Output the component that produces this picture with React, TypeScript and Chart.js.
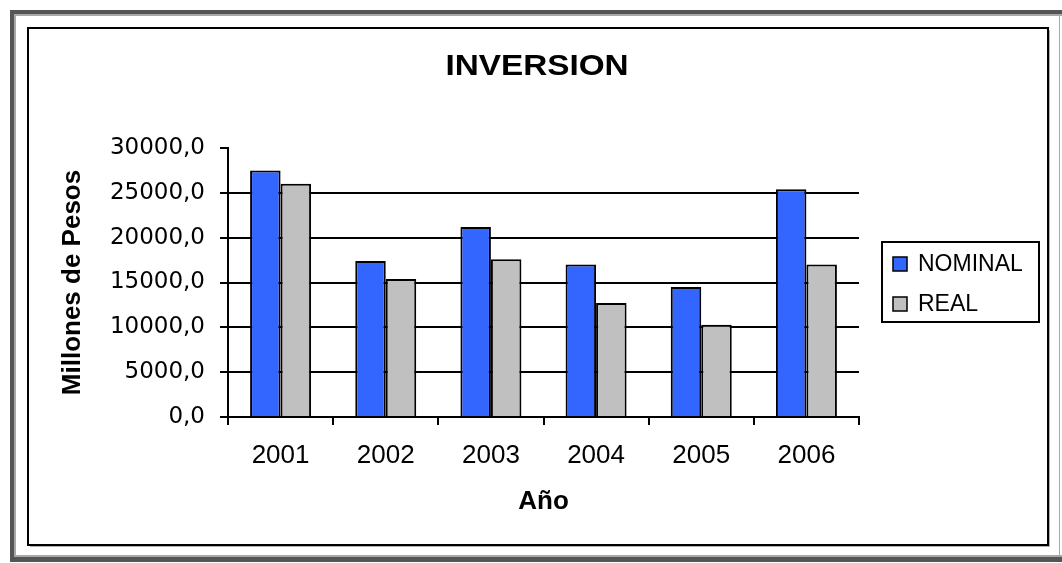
import { useEffect, useRef } from 'react';
import { Chart, registerables } from 'chart.js';

Chart.register(...registerables);

// Investment per year, in millions of pesos
const years = ['2001', '2002', '2003', '2004', '2005', '2006'];
const nominal = [27500, 17400, 21200, 17000, 14500, 25400];
const real = [26000, 15400, 17600, 12700, 10300, 17000];
const seriesNames = ['NOMINAL', 'REAL'];
const seriesColors = ['#3366FF', '#C0C0C0'];

const chartTitle = 'INVERSION';
const yAxisTitle = 'Millones de Pesos';
const xAxisTitle = 'Año';

const yMin = 0;
const yMax = 30000;
const yStep = 5000;

const W = 1062;
const H = 563;

// Double outer border plus the inner black frame
const framePlugin = {
  id: 'frame',
  beforeDraw(chart: any) {
    const ctx = chart.ctx;
    ctx.save();
    ctx.fillStyle = '#ffffff';
    ctx.fillRect(0, 0, W, H);
    // dark outer ring
    ctx.fillStyle = '#555555';
    ctx.fillRect(10, 10, W - 10, 4);
    ctx.fillRect(10, 10, 4, 552);
    ctx.fillRect(10, 557, W - 10, 5);
    // light inner ring
    ctx.fillStyle = '#a8a8a8';
    ctx.fillRect(14, 14, W - 14, 2);
    ctx.fillRect(14, 14, 2, 543);
    ctx.fillRect(14, 555, W - 14, 2);
    ctx.fillRect(1059, 14, 1, 543);
    // inner frame with a faint shadow
    ctx.fillStyle = '#b0b0b0';
    ctx.fillRect(30, 546, 1020, 1);
    ctx.fillRect(1049, 30, 1, 517);
    ctx.strokeStyle = '#000000';
    ctx.lineWidth = 2;
    ctx.strokeRect(28, 28, 1020, 517);
    ctx.restore();
  },
};

// Chart title and the boxed legend on the right
const decorPlugin = {
  id: 'decor',
  afterDraw(chart: any) {
    const ctx = chart.ctx;
    ctx.save();
    ctx.fillStyle = '#000000';
    ctx.font = 'bold 30px "Liberation Sans"';
    ctx.textAlign = 'center';
    ctx.textBaseline = 'middle';
    // slightly widened heading
    ctx.save();
    ctx.translate(537, 67);
    ctx.scale(1.11, 1);
    ctx.fillText(chartTitle, 0, 0);
    ctx.restore();

    // legend box
    ctx.strokeStyle = '#000000';
    ctx.lineWidth = 2;
    ctx.strokeRect(882, 242, 157, 80);
    ctx.font = '23px "Liberation Sans"';
    ctx.textAlign = 'left';
    chart.data.datasets.forEach((ds: any, i: number) => {
      const cy = 264 + i * 40;
      ctx.fillStyle = ds.backgroundColor;
      ctx.fillRect(893, cy - 7, 14, 14);
      ctx.lineWidth = 1.5;
      ctx.strokeStyle = '#000000';
      ctx.strokeRect(893, cy - 7, 14, 14);
      ctx.fillStyle = '#000000';
      ctx.fillText(ds.label, 918, cy + 1);
    });
    ctx.restore();
  },
};

export default function App() {
  const canvasRef = useRef<HTMLCanvasElement | null>(null);

  useEffect(() => {
    if (!canvasRef.current) return;
    const chart = new Chart(canvasRef.current, {
      type: 'bar',
      data: {
        labels: years,
        datasets: [
          {
            label: seriesNames[0],
            data: nominal,
            backgroundColor: seriesColors[0],
            borderColor: '#000000',
            borderWidth: 2,
          },
          {
            label: seriesNames[1],
            data: real,
            backgroundColor: seriesColors[1],
            borderColor: '#000000',
            borderWidth: 2,
          },
        ],
      },
      options: {
        responsive: false,
        animation: false,
        devicePixelRatio: 1,
        layout: { padding: { left: 40, right: 203, top: 148, bottom: 0 } },
        datasets: {
          bar: { categoryPercentage: 0.58, barPercentage: 1 },
        },
        plugins: {
          legend: { display: false },
          title: { display: false },
          tooltip: { enabled: false },
        },
        scales: {
          x: {
            offset: true,
            grid: {
              display: true,
              offset: true,
              drawOnChartArea: false,
              drawTicks: true,
              tickLength: 8,
              color: '#000000',
              tickColor: '#000000',
              lineWidth: 2,
            },
            border: { display: true, color: '#000000', width: 2 },
            ticks: {
              color: '#000000',
              padding: 15,
              maxRotation: 0,
              autoSkip: false,
              font: { family: 'Liberation Sans', size: 26 },
            },
            title: {
              display: true,
              text: xAxisTitle,
              color: '#000000',
              font: { family: 'Liberation Sans', size: 26, weight: 'bold' },
              padding: { top: 0, bottom: 46 },
            },
            afterFit: (scale: any) => {
              scale.height = 146;
            },
          },
          y: {
            min: yMin,
            max: yMax,
            grid: {
              color: (ctx: any) =>
                ctx.tick && ctx.tick.value === yMax ? 'rgba(0,0,0,0)' : '#000000',
              tickColor: '#000000',
              lineWidth: 2,
              drawTicks: true,
              tickLength: 8,
            },
            border: { display: true, color: '#000000', width: 2 },
            ticks: {
              stepSize: yStep,
              padding: 15,
              color: '#000000',
              font: { family: 'DejaVu Sans', size: 23 },
              callback: (v: any) => Number(v).toFixed(1).replace('.', ','),
            },
            title: {
              display: true,
              text: yAxisTitle,
              color: '#000000',
              font: { family: 'Liberation Sans', size: 26, weight: 'bold' },
              padding: { top: 17, bottom: 0 },
            },
            afterFit: (scale: any) => {
              scale.width = 188;
            },
          },
        },
      },
      plugins: [framePlugin, decorPlugin],
    });
    return () => chart.destroy();
  }, []);

  return (
    <div style={{ position: 'absolute', left: 0, top: 0, width: W, height: H, background: '#fff' }}>
      <canvas ref={canvasRef} width={W} height={H} style={{ display: 'block' }} />
    </div>
  );
}
